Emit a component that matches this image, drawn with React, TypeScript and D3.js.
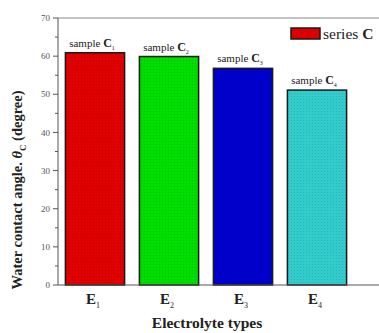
import { useEffect, useRef } from 'react';
import * as d3 from 'd3';

// chart data
const categories = ['1', '2', '3', '4'];
const values = [60.9, 59.9, 56.8, 51.1];
const barColors = ['#e00000', '#00dd00', '#0000cc', '#33cccc'];
const yTicks = [0, 10, 20, 30, 40, 50, 60, 70];
const yMinorTicks = [5, 15, 25, 35, 45, 55, 65];

const W = 379;
const H = 333;
const FONT = '"Liberation Serif", "Times New Roman", serif';

const App = () => {
  const svgRef = useRef<SVGSVGElement>(null);

  useEffect(() => {
    if (!svgRef.current) return;
    const svg = d3.select(svgRef.current);
    svg.selectAll('*').remove();

    const left = 58;
    const top = 18;
    const right = 384;
    const bottom = 285;

    const x = d3.scaleBand().domain(categories).range([left, left + 4 * 74]).paddingInner(0.2).paddingOuter(0.1);
    const y = d3.scaleLinear().domain([0, 70]).range([bottom, top]);

    // texture pattern for bars
    const defs = svg.append('defs');
    barColors.forEach((c, i) => {
      const p = defs.append('pattern')
        .attr('id', `pat${i}`)
        .attr('width', 3)
        .attr('height', 3)
        .attr('patternUnits', 'userSpaceOnUse');
      p.append('rect').attr('width', 3).attr('height', 3).attr('fill', c);
      p.append('rect').attr('width', 1).attr('height', 1).attr('fill', '#000').attr('opacity', 0.12);
    });

    // top frame line
    svg.append('line')
      .attr('x1', left).attr('x2', right)
      .attr('y1', top).attr('y2', top)
      .attr('stroke', '#888').attr('stroke-width', 1);

    // bars
    svg.selectAll('.bar')
      .data(values)
      .enter()
      .append('rect')
      .attr('x', (_, i) => x(categories[i])!)
      .attr('y', d => y(d))
      .attr('width', x.bandwidth())
      .attr('height', d => y(0) - y(d))
      .attr('fill', (_, i) => `url(#pat${i})`)
      .attr('stroke', '#1a1a1a')
      .attr('stroke-width', 1.5);

    // sample labels
    values.forEach((v, i) => {
      const t = svg.append('text')
        .attr('x', x(categories[i])! + x.bandwidth() / 2 - 3)
        .attr('y', y(v) - 6)
        .attr('text-anchor', 'middle')
        .attr('font-family', FONT)
        .attr('font-size', 11)
        .attr('fill', '#222');
      t.append('tspan').text('sample ');
      t.append('tspan').attr('font-weight', 'bold').attr('font-size', 12).text('C');
      t.append('tspan').attr('font-size', 6).attr('dy', 3).text(categories[i]);
    });

    // axes
    const yAxis = svg.append('g').attr('transform', `translate(${left},0)`);
    yAxis.append('line').attr('x1', 0).attr('x2', 0).attr('y1', top).attr('y2', bottom).attr('stroke', '#555');
    yAxis.selectAll('.maj').data(yTicks).enter().append('line')
      .attr('x1', -5).attr('x2', 0).attr('y1', d => y(d)).attr('y2', d => y(d)).attr('stroke', '#555');
    yAxis.selectAll('.min').data(yMinorTicks).enter().append('line')
      .attr('x1', -3).attr('x2', 0).attr('y1', d => y(d)).attr('y2', d => y(d)).attr('stroke', '#555');
    yAxis.selectAll('.lab').data(yTicks).enter().append('text')
      .attr('x', -8).attr('y', d => y(d)).attr('dy', '0.35em')
      .attr('text-anchor', 'end')
      .attr('font-family', FONT).attr('font-size', 9).attr('fill', '#555')
      .text(d => d);

    svg.append('line')
      .attr('x1', left).attr('x2', right)
      .attr('y1', bottom).attr('y2', bottom)
      .attr('stroke', '#555');

    // x tick labels
    categories.forEach(c => {
      const t = svg.append('text')
        .attr('x', x(c)! + x.bandwidth() / 2 - 2)
        .attr('y', 304)
        .attr('text-anchor', 'middle')
        .attr('font-family', FONT)
        .attr('font-weight', 'bold')
        .attr('font-size', 15)
        .attr('fill', '#222');
      t.append('tspan').text('E');
      t.append('tspan').attr('font-size', 8).attr('font-weight', 'normal').attr('dy', 4).text(c);
    });

    // x title
    svg.append('text')
      .attr('x', 207).attr('y', 328)
      .attr('text-anchor', 'middle')
      .attr('font-family', FONT).attr('font-weight', 'bold').attr('font-size', 15.5)
      .attr('fill', '#222')
      .text('Electrolyte types');

    // y title
    const yt = svg.append('text')
      .attr('transform', `translate(22,${190}) rotate(-90)`)
      .attr('text-anchor', 'middle')
      .attr('font-family', FONT).attr('font-weight', 'bold').attr('font-size', 14.5)
      .attr('fill', '#222');
    yt.append('tspan').text('Water contact angle. ');
    yt.append('tspan').attr('font-style', 'italic').text('θ');
    yt.append('tspan').attr('font-size', 9).attr('dy', 4).text('C');
    yt.append('tspan').attr('dy', -4).text(' (degree)');

    // legend
    svg.append('rect')
      .attr('x', 291).attr('y', 28).attr('width', 29).attr('height', 11)
      .attr('fill', 'url(#pat0)').attr('stroke', '#1a1a1a').attr('stroke-width', 1.5);
    const lt = svg.append('text')
      .attr('x', 323).attr('y', 38.5)
      .attr('font-family', FONT).attr('font-size', 15.5).attr('fill', '#222');
    lt.append('tspan').text('series ');
    lt.append('tspan').attr('font-weight', 'bold').text('C');
  }, []);

  return (
    <svg
      ref={svgRef}
      width={W}
      height={H}
      style={{ position: 'absolute', left: 0, top: 0, background: '#fff' }}
    />
  );
};

export default App;
